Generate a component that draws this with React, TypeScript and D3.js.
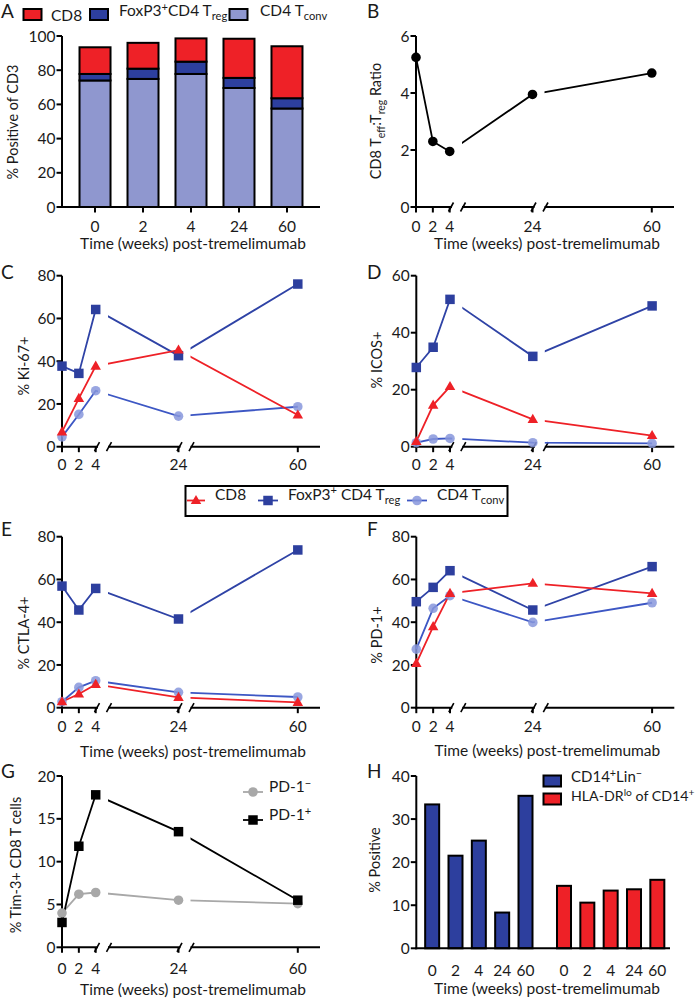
import React from 'react';
import * as d3 from 'd3';

const FONT = 'Lato, "Open Sans", sans-serif';
const RED = '#ee2127';
const NAVY = '#2d3f9e';
const LAV = '#8f97cf';
const TREG_LINE = '#2f43a6';
const TCONV_LINE = '#3d57c4';
const TCONV_MK = '#8796dc';
const GRAY = '#a8a8a8';

// ---------- data ----------
const weeks = [0, 2, 4, 24, 60];
const weekLabels = ['0', '2', '4', '24', '60'];

// Panel A (stacked % of CD3)
const aTconv = [74, 74.9, 77.8, 69.6, 57.6];
const aTreg = [3.8, 6.0, 7.2, 5.9, 6.0];
const aCD8 = [15.6, 15.1, 13.6, 22.9, 30.4];
const aTicks = [0, 20, 40, 60, 80, 100];

// Panel B (ratio)
const bRatio = [5.25, 2.3, 1.95, 3.95, 4.7];
const bTicks = [0, 2, 4, 6];

// Panel C (Ki-67)
const cCD8 = [6.9, 22.6, 37.7, 45.2, 14.8];
const cTreg = [37.7, 34.3, 64.2, 42.6, 76.1];
const cTconv = [4.6, 15.1, 26.2, 14.3, 18.7];
// Panel D (ICOS)
const dCD8 = [1.8, 14.6, 21.1, 9.6, 3.9];
const dTreg = [27.8, 34.9, 51.7, 31.7, 49.4];
const dTconv = [1.4, 2.7, 2.9, 1.4, 1.2];
// Panel E (CTLA-4)
const eCD8 = [2.8, 6.4, 10.9, 4.8, 2.5];
const eTreg = [56.9, 45.7, 55.8, 41.5, 73.8];
const eTconv = [2.8, 9.5, 12.6, 7.2, 5.0];
// Panel F (PD-1)
const fCD8 = [20.7, 37.9, 53.5, 58.2, 53.5];
const fTreg = [49.6, 56.3, 64.1, 45.7, 66.0];
const fTconv = [27.4, 46.5, 52.4, 39.9, 49.1];
// Panel G (Tim-3)
const gPDpos = [2.9, 11.8, 17.8, 13.5, 5.5];
const gPDneg = [4.0, 6.2, 6.4, 5.5, 5.1];
// Panel H
const hGroups = ['CD14', 'HLA'];
const hCD14 = [33.4, 21.5, 25.0, 8.3, 35.4];
const hHLA = [14.5, 10.6, 13.4, 13.7, 15.9];

const ticks80 = [0, 20, 40, 60, 80];
const ticks60 = [0, 20, 40, 60];
const ticks20 = [0, 5, 10, 15, 20];
const ticks40 = [0, 10, 20, 30, 40];

// broken axis layout (pixel offsets from y axis)
const xBreakDomain = [0, 4, 5, 24, 27, 60];
const xBreakRange = [0, 33.7, 44.7, 116.5, 126.5, 235.8];
const seg = { s1End: 36, s2Start: 46, s2End: 118.5, s3Start: 128.5, end: 258 };

const TXT = '#1a1a1a';
const FS = 15.5;

type Part = [string, 'n' | 'sub' | 'sup'];
function rich(parts: Part[], fs: number, supK = 0.34) {
  const out: any[] = [];
  let shift = 0;
  parts.forEach((p, i) => {
    const [t, k] = p;
    let target = 0;
    let size = fs;
    if (k === 'sub') { target = fs * 0.3; size = fs * 0.72; }
    if (k === 'sup') { target = -fs * supK; size = fs * 0.72; }
    out.push(
      <tspan key={i} dy={target - shift} fontSize={size}>{t}</tspan>
    );
    shift = target;
  });
  return out;
}

function Marker({ type, x, y, fill, opacity = 1 }: any) {
  if (type === 'circ') return <circle cx={x} cy={y} r={4.8} fill={fill} opacity={opacity} />;
  const sym = type === 'sq' ? d3.symbolSquare : d3.symbolTriangle;
  const size = type === 'sq' ? 90 : 48;
  const p = d3.symbol().type(sym).size(size)();
  return <path d={p || ''} transform={`translate(${x},${y + (type === 'tri' ? 0.5 : 0)})`} fill={fill} opacity={opacity} />;
}

type Series = { values: number[]; line: string; mk: string; type: string; op?: number };

function YAxis({ ox, y, ticks }: any) {
  const [r0, r1] = y.range();
  return (
    <g>
      <line x1={ox} x2={ox} y1={r0 + 1} y2={r1} stroke="#000" strokeWidth={2} />
      {ticks.map((t: number) => (
        <g key={t}>
          <line x1={ox - 5.5} x2={ox} y1={y(t)} y2={y(t)} stroke="#000" strokeWidth={2} />
          <text x={ox - 6.5} y={y(t)} dy="0.36em" textAnchor="end" fontSize={FS} fill={TXT}>{t}</text>
        </g>
      ))}
    </g>
  );
}

function LinePanel(props: any) {
  const { id, ox, yTop, y0, max, yTicks, series, xTitle, tickY, titleY, yTitle, yTitleX, yTitleY, letter, letterX, letterY } = props;
  const x = d3.scaleLinear().domain(xBreakDomain).range(xBreakRange.map((r) => ox + r));
  const y = d3.scaleLinear().domain([0, max]).range([y0, yTop]);
  const line = d3.line<number>().x((_, i) => x(weeks[i])).y((d) => y(d));
  const clipRects = [
    [ox - 40, ox + seg.s1End],
    [ox + seg.s2Start, ox + seg.s2End],
    [ox + seg.s3Start, ox + seg.end + 40],
  ];
  const slashes = [seg.s1End - 1, seg.s2Start + 1, seg.s2End - 1, seg.s3Start + 1];
  return (
    <g>
      <defs>
        <clipPath id={`clip-${id}`}>
          {clipRects.map((r, i) => (
            <rect key={i} x={r[0]} y={yTop - 30} width={r[1] - r[0]} height={y0 - yTop + 60} />
          ))}
        </clipPath>
      </defs>
      <text x={letterX} y={letterY} fontSize={19} fill={TXT}>{letter}</text>
      <line x1={ox - 1} x2={ox + seg.s1End} y1={y0} y2={y0} stroke="#000" strokeWidth={2} />
      <line x1={ox + seg.s2Start} x2={ox + seg.s2End} y1={y0} y2={y0} stroke="#000" strokeWidth={2} />
      <line x1={ox + seg.s3Start} x2={ox + seg.end} y1={y0} y2={y0} stroke="#000" strokeWidth={2} />
      {slashes.map((s, i) => (
        <line key={i} x1={ox + s - 2.5} x2={ox + s + 2.5} y1={y0 + 4.5} y2={y0 - 4.5} stroke="#000" strokeWidth={1.6} />
      ))}
      {weeks.map((w, i) => (
        <g key={w}>
          <line x1={x(w)} x2={x(w)} y1={y0} y2={y0 + 5.5} stroke="#000" strokeWidth={2} />
          <text x={x(w)} y={tickY} textAnchor="middle" fontSize={FS} fill={TXT}>{weekLabels[i]}</text>
        </g>
      ))}
      <YAxis ox={ox} y={y} ticks={yTicks} />
      <g clipPath={`url(#clip-${id})`}>
        {series.map((s: Series, i: number) => (
          <path key={i} d={line(s.values) || ''} fill="none" stroke={s.line} strokeWidth={1.8} />
        ))}
      </g>
      {series.map((s: Series, i: number) => (
        <g key={i}>
          {s.values.map((v, j) => (
            <Marker key={j} type={s.type} x={x(weeks[j])} y={y(v)} fill={s.mk} opacity={s.op ?? 1} />
          ))}
        </g>
      ))}
      {xTitle && (
        <text x={ox + 131} y={titleY} textAnchor="middle" fontSize={FS} fill={TXT}>Time (weeks) post-tremelimumab</text>
      )}
      <text transform={`translate(${yTitleX},${yTitleY}) rotate(-90)`} textAnchor="middle" dy="0.35em" fontSize={14.5} fill={TXT}>
        {yTitle}
      </text>
    </g>
  );
}

function tripleSeries(cd8: number[], treg: number[], tconv: number[]): Series[] {
  return [
    { values: tconv, line: TCONV_LINE, mk: TCONV_MK, type: 'circ', op: 0.85 },
    { values: treg, line: TREG_LINE, mk: NAVY, type: 'sq' },
    { values: cd8, line: RED, mk: RED, type: 'tri' },
  ];
}

function PanelA() {
  const ox = 62, y0 = 207, yTop = 36;
  const x = d3.scaleBand<string>().domain(weekLabels).range([ox, ox + 258]).paddingInner(0.354).paddingOuter(0.365);
  const y = d3.scaleLinear().domain([0, 100]).range([y0, yTop]);
  const stack = d3.stack<number>().keys(['tconv', 'treg', 'cd8'] as any).value((i: any, k: any) =>
    k === 'tconv' ? aTconv[i] : k === 'treg' ? aTreg[i] : aCD8[i]
  )(d3.range(5) as any);
  const fills = [LAV, NAVY, RED];
  const ly = 15.5;
  return (
    <g>
      <text x={1} y={18} fontSize={19} fill={TXT}>A</text>
      {stack.map((layer, li) =>
        layer.map((d, i) => (
          <rect key={`${li}-${i}`} x={x(weekLabels[i])} y={y(d[1])} width={x.bandwidth()} height={y(d[0]) - y(d[1])}
            fill={fills[li]} stroke="#000" strokeWidth={2} />
        ))
      )}
      <line x1={ox - 1} x2={ox + 258} y1={y0} y2={y0} stroke="#000" strokeWidth={2} />
      {weekLabels.map((w) => (
        <g key={w}>
          <line x1={(x(w) || 0) + x.bandwidth() / 2} x2={(x(w) || 0) + x.bandwidth() / 2} y1={y0} y2={y0 + 5.5} stroke="#000" strokeWidth={2} />
          <text x={(x(w) || 0) + x.bandwidth() / 2} y={232} textAnchor="middle" fontSize={FS} fill={TXT}>{w}</text>
        </g>
      ))}
      <YAxis ox={ox} y={y} ticks={aTicks} />
      <text x={ox + 131} y={248.5} textAnchor="middle" fontSize={FS} fill={TXT}>Time (weeks) post-tremelimumab</text>
      <text transform={`translate(13,122) rotate(-90)`} textAnchor="middle" dy="0.35em" fontSize={14.5} fill={TXT}>% Positive of CD3</text>
      <rect x={23.5} y={9} width={18} height={11} fill={RED} stroke="#000" strokeWidth={2} />
      <text x={51} y={ly} dy="0.36em" fontSize={FS} fill={TXT}>CD8</text>
      <rect x={90} y={9} width={18} height={11} fill={NAVY} stroke="#000" strokeWidth={2} />
      <text x={119} y={ly} dy="0.36em" fontSize={FS} fill={TXT}>{rich([['FoxP3', 'n'], ['+', 'sup'], ['CD4 T', 'n'], ['reg', 'sub']], FS, 0.3)}</text>
      <rect x={229.5} y={9} width={18} height={11} fill={LAV} stroke="#000" strokeWidth={2} />
      <text x={260} y={ly} dy="0.36em" fontSize={FS} fill={TXT}>{rich([['CD4 T', 'n'], ['conv', 'sub']], FS)}</text>
    </g>
  );
}

function PanelB() {
  const ox = 416, y0 = 207, yTop = 36;
  return (
    <LinePanel id="b" ox={ox} yTop={yTop} y0={y0} max={6} yTicks={bTicks}
      series={[{ values: bRatio, line: '#000', mk: '#000', type: 'circ' }]}
      xTitle tickY={232} titleY={248.5}
      yTitle={rich([['CD8 T', 'n'], ['eff', 'sub'], [':T', 'n'], ['reg', 'sub'], [' Ratio', 'n']], 14.5)}
      yTitleX={381} yTitleY={121} letter="B" letterX={367} letterY={18} />
  );
}

function PanelH() {
  const ox = 416.3, y0 = 948.3, yTop = 776;
  const outer = d3.scaleBand<string>().domain(hGroups).range([420.5, 669]).paddingInner(0.115);
  const inner = d3.scaleBand<string>().domain(weekLabels).range([0, outer.bandwidth()]).paddingInner(0.4).paddingOuter(0.2);
  const y = d3.scaleLinear().domain([0, 40]).range([y0, yTop]);
  const groups = [
    { key: 'CD14', vals: hCD14, fill: NAVY },
    { key: 'HLA', vals: hHLA, fill: RED },
  ];
  return (
    <g>
      <text x={367} y={778} fontSize={19} fill={TXT}>H</text>
      {groups.map((g) =>
        g.vals.map((v, i) => (
          <rect key={g.key + i} x={(outer(g.key) || 0) + (inner(weekLabels[i]) || 0)} y={y(v)} width={inner.bandwidth()}
            height={y0 - y(v)} fill={g.fill} stroke="#000" strokeWidth={2} />
        ))
      )}
      <line x1={ox - 1} x2={670} y1={y0} y2={y0} stroke="#000" strokeWidth={2} />
      <YAxis ox={ox} y={y} ticks={ticks40} />
      {groups.map((g) =>
        weekLabels.map((w) => (
          <text key={g.key + w} x={(outer(g.key) || 0) + (inner(w) || 0) + inner.bandwidth() / 2} y={976}
            textAnchor="middle" fontSize={FS} fill={TXT}>{w}</text>
        ))
      )}
      <text x={416 + 131} y={994} textAnchor="middle" fontSize={FS} fill={TXT}>Time (weeks) post-tremelimumab</text>
      <text transform={`translate(375,860) rotate(-90)`} textAnchor="middle" dy="0.35em" fontSize={14.5} fill={TXT}>% Positive</text>
      <rect x={543.5} y={775.5} width={17.5} height={11} fill={NAVY} stroke="#000" strokeWidth={2} />
      <text x={571} y={782} dy="0.36em" fontSize={15} fill={TXT}>{rich([['CD14', 'n'], ['+', 'sup'], ['Lin', 'n'], ['\u2212', 'sup']], 15)}</text>
      <rect x={543.5} y={793.5} width={17.5} height={11} fill={RED} stroke="#000" strokeWidth={2} />
      <text x={571} y={800.5} dy="0.36em" fontSize={14.2} fill={TXT}>{rich([['HLA-DR', 'n'], ['lo', 'sup'], [' of CD14', 'n'], ['+', 'sup']], 14.2)}</text>
    </g>
  );
}

function MiddleLegend() {
  const cy = 500.5;
  const items = [
    { x1: 187, x2: 205, type: 'tri', line: RED, mk: RED, op: 1, tx: 215, label: rich([['CD8', 'n']], FS) },
    { x1: 258, x2: 278, type: 'sq', line: TREG_LINE, mk: NAVY, op: 1, tx: 288, label: rich([['FoxP3', 'n'], ['+', 'sup'], [' CD4 T', 'n'], ['reg', 'sub']], FS) },
    { x1: 407, x2: 427, type: 'circ', line: TCONV_LINE, mk: TCONV_MK, op: 0.85, tx: 437, label: rich([['CD4 T', 'n'], ['conv', 'sub']], FS) },
  ];
  return (
    <g>
      <rect x={185.5} y={486} width={322} height={30} fill="none" stroke="#000" strokeWidth={2} />
      {items.map((it, i) => (
        <g key={i}>
          <line x1={it.x1} x2={it.x2} y1={cy} y2={cy} stroke={it.line} strokeWidth={1.8} />
          <Marker type={it.type} x={(it.x1 + it.x2) / 2} y={cy} fill={it.mk} opacity={it.op} />
          <text x={it.tx} y={cy - 1} dy="0.36em" fontSize={FS} fill={TXT}>{it.label}</text>
        </g>
      ))}
    </g>
  );
}

function LegendG() {
  return (
    <g>
      <line x1={243} x2={263} y1={792} y2={792} stroke={GRAY} strokeWidth={1.8} />
      <Marker type="circ" x={253} y={792} fill={GRAY} />
      <text x={269} y={792} dy="0.36em" fontSize={FS} fill={TXT}>{rich([['PD-1', 'n'], ['\u2212', 'sup']], FS)}</text>
      <line x1={243} x2={263} y1={820} y2={820} stroke="#000" strokeWidth={1.8} />
      <Marker type="sq" x={253} y={820} fill="#000" />
      <text x={269} y={820} dy="0.36em" fontSize={FS} fill={TXT}>{rich([['PD-1', 'n'], ['+', 'sup']], FS)}</text>
    </g>
  );
}

export default function App() {
  return (
    <svg width={696} height={998} viewBox="0 0 696 998"
      style={{ position: 'absolute', left: 0, top: 0, display: 'block', background: '#fff', fontFamily: FONT }}>
      <rect width={696} height={998} fill="#fff" />
      <PanelA />
      <PanelB />
      <LinePanel id="c" ox={62} yTop={275.7} y0={446.7} max={80} yTicks={ticks80}
        series={tripleSeries(cCD8, cTreg, cTconv)} xTitle={false} tickY={470}
        yTitle="% Ki-67+" yTitleX={24} yTitleY={366} letter="C" letterX={1} letterY={279} />
      <LinePanel id="d" ox={416.3} yTop={275.7} y0={446.7} max={60} yTicks={ticks60}
        series={tripleSeries(dCD8, dTreg, dTconv)} xTitle={false} tickY={470}
        yTitle="% ICOS+" yTitleX={377} yTitleY={360} letter="D" letterX={367} letterY={279} />
      <MiddleLegend />
      <LinePanel id="e" ox={62} yTop={536.7} y0={707.7} max={80} yTicks={ticks80}
        series={tripleSeries(eCD8, eTreg, eTconv)} xTitle tickY={732} titleY={757}
        yTitle="% CTLA-4+" yTitleX={24} yTitleY={633} letter="E" letterX={1} letterY={536} />
      <LinePanel id="f" ox={416.3} yTop={536.7} y0={707.7} max={80} yTicks={ticks80}
        series={tripleSeries(fCD8, fTreg, fTconv)} xTitle tickY={732} titleY={756}
        yTitle="% PD-1+" yTitleX={377} yTitleY={635} letter="F" letterX={367} letterY={536} />
      <LinePanel id="g" ox={62} yTop={776} y0={947.3} max={20} yTicks={ticks20}
        series={[
          { values: gPDneg, line: GRAY, mk: GRAY, type: 'circ' },
          { values: gPDpos, line: '#000', mk: '#000', type: 'sq' },
        ]}
        xTitle tickY={973.5} titleY={995}
        yTitle="% Tim-3+ CD8 T cells" yTitleX={16} yTitleY={865} letter="G" letterX={1} letterY={778} />
      <LegendG />
      <PanelH />
    </svg>
  );
}
